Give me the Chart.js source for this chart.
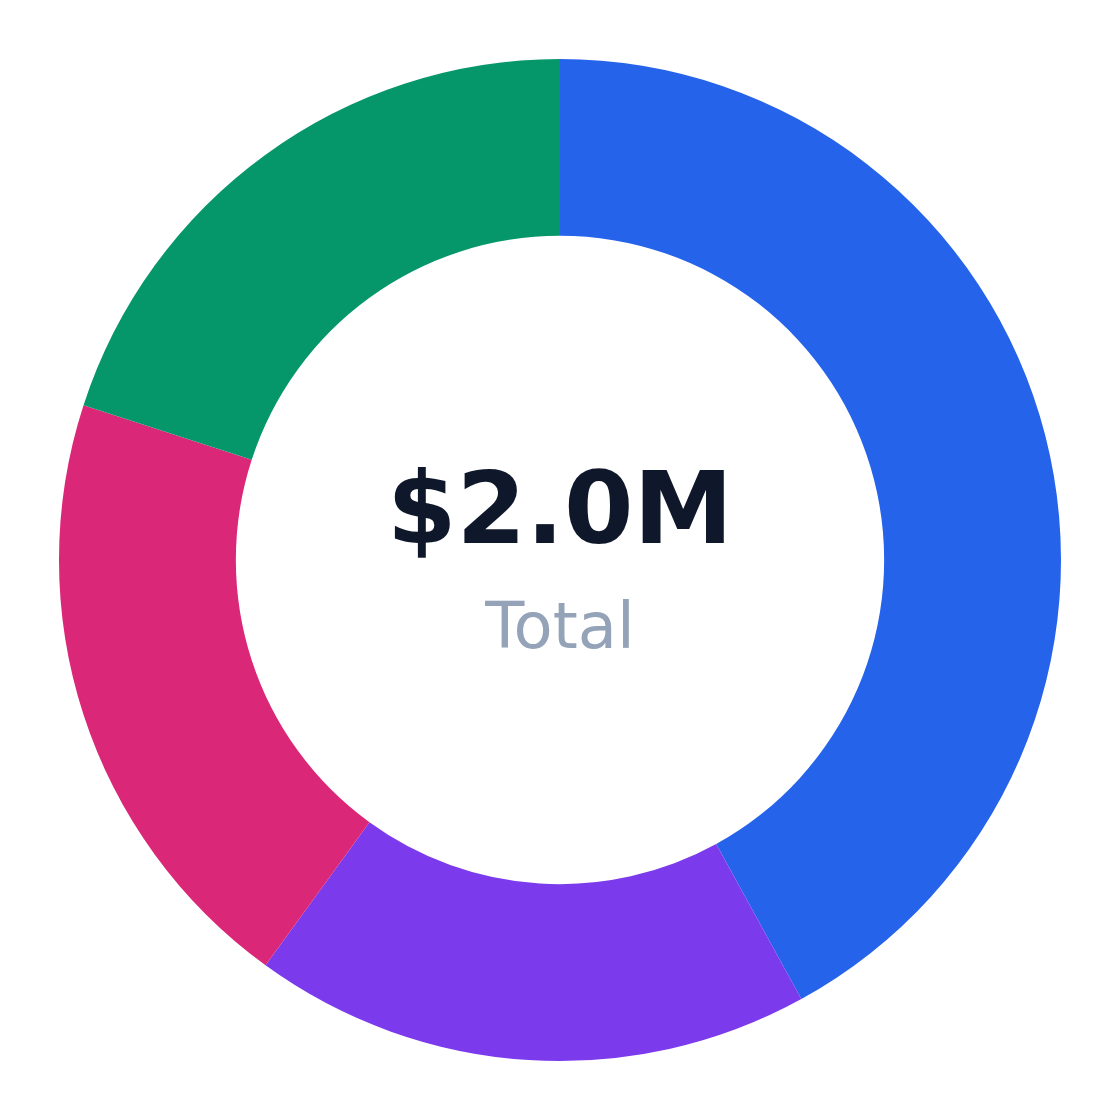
<!DOCTYPE html>
<html lang="en">
<head>
  <meta charset="UTF-8">
  <title>Total</title>
  <script src="https://cdn.jsdelivr.net/npm/chart.js"></script>
  <style>
    html, body { margin: 0; padding: 0; background: #fff; }
    #wrap { width: 1120px; height: 1120px; }
  </style>
</head>
<body>
<div id="wrap"><canvas id="donut" width="1120" height="1120"></canvas></div>

<script>
  // Segment values in $K, clockwise from 12 o'clock
  const labels = ['Segment A', 'Segment B', 'Segment C', 'Segment D'];
  const values = [840, 360, 400, 400];
  const colors = ['#2563eb', '#7c3aed', '#db2777', '#059669'];
  const centerValue = '$2.0M';
  const centerLabel = 'Total';

  // Draws the total in the hole
  const centerText = {
    id: 'centerText',
    afterDraw(chart) {
      const { ctx } = chart;
      const arc = chart.getDatasetMeta(0).data[0];
      const x = arc.x, y = arc.y;
      ctx.save();
      ctx.textAlign = 'center';
      ctx.textBaseline = 'alphabetic';
      ctx.fillStyle = '#0f172a';
      ctx.font = 'bold 100px "DejaVu Sans"';
      ctx.fillText(centerValue, x, y - 17);
      ctx.fillStyle = '#94a3b8';
      ctx.font = '64px "DejaVu Sans"';
      ctx.fillText(centerLabel, x, y + 88);
      ctx.restore();
    }
  };

  new Chart(document.getElementById('donut'), {
    type: 'doughnut',
    data: {
      labels: labels,
      datasets: [{
        data: values,
        backgroundColor: colors,
        borderWidth: 0
      }]
    },
    options: {
      responsive: false,
      animation: false,
      cutout: '64.7%',
      layout: { padding: 59 },
      plugins: {
        legend: { display: false },
        tooltip: { enabled: false }
      }
    },
    plugins: [centerText]
  });
</script>
</body>
</html>
